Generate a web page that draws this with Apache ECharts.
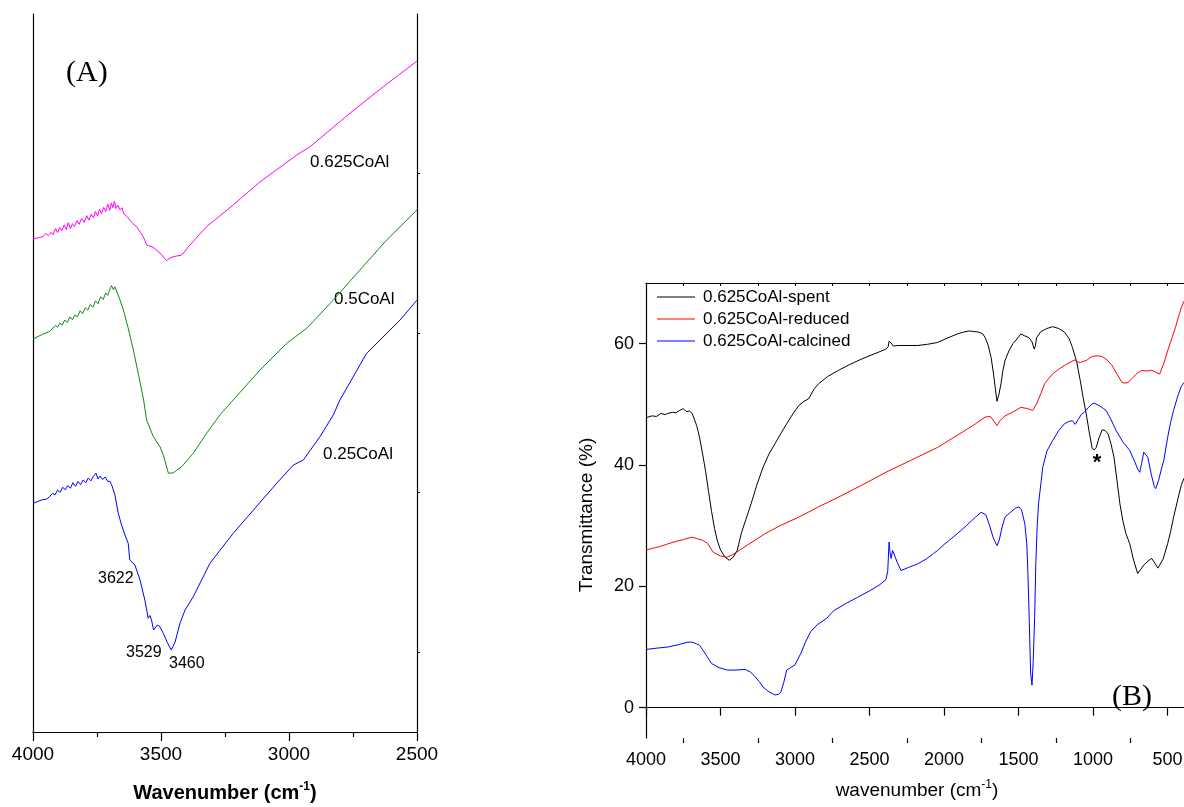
<!DOCTYPE html>
<html>
<head>
<meta charset="utf-8">
<title>FTIR spectra of CoAl samples</title>
<script src="https://cdn.jsdelivr.net/npm/echarts/dist/echarts.min.js"></script>
<style>
  html, body { margin: 0; padding: 0; background: #fff; }
  #chart { width: 1184px; height: 807px; }
</style>
</head>
<body>
<div id="chart"></div>
<script>
// ---- Panel (A): OH stretching region, offset spectra (arbitrary units) ----
const specA_0625 = [
  [4000,30.90],[3975,31.00],[3960,31.05],[3950,31.25],[3940,31.12],[3930,31.32],[3922,31.18],[3912,31.55],
  [3904,31.30],[3896,31.62],[3888,31.42],[3878,31.78],[3870,31.48],[3862,31.92],[3854,31.55],[3846,31.86],
  [3838,31.68],[3828,32.05],[3820,31.82],[3810,32.18],[3800,31.94],[3790,32.36],[3782,32.08],[3772,32.46],
  [3764,32.22],[3756,32.62],[3748,32.34],[3740,32.76],[3732,32.48],[3724,32.88],[3716,32.62],[3708,33.08],
  [3700,32.70],[3694,33.16],[3688,32.86],[3682,33.26],[3676,32.80],[3668,33.02],[3660,32.72],[3652,32.86],
  [3646,32.50],[3640,32.56],[3630,32.25],[3612,31.90],[3595,31.67],[3580,31.30],[3569,31.04],[3556,30.52],
  [3530,30.38],[3504,30.02],[3478,29.54],[3465,29.70],[3452,29.79],[3419,29.89],[3387,30.52],[3322,31.67],
  [3218,33.03],[3113,34.49],[3022,35.54],[2970,36.16],[2918,36.68],[2840,37.73],[2762,38.78],[2632,40.44],
  [2500,42.05]
];
const specA_05 = [
  [4000,24.63],[3960,24.95],[3935,25.10],[3922,25.32],[3912,25.48],[3904,25.38],[3895,25.62],[3886,25.50],
  [3876,25.82],[3866,25.66],[3856,26.02],[3846,25.84],[3836,26.14],[3826,26.02],[3816,26.40],[3806,26.22],
  [3796,26.60],[3786,26.44],[3776,26.80],[3766,26.62],[3756,27.02],[3746,26.84],[3736,27.28],[3726,27.10],
  [3716,27.52],[3708,27.36],[3700,27.74],[3693,27.98],[3686,27.72],[3680,27.90],[3660,27.07],[3647,26.45],
  [3628,25.30],[3608,23.94],[3589,22.48],[3569,20.91],[3556,19.55],[3530,18.51],[3504,17.88],[3491,17.36],
  [3471,16.21],[3452,16.25],[3419,16.63],[3374,17.47],[3322,18.72],[3270,19.87],[3218,20.81],[3113,22.69],
  [3009,24.36],[2931,25.30],[2827,27.07],[2723,28.95],[2619,30.83],[2500,32.72]
];
const specA_025 = [
  [4000,14.33],[3965,14.55],[3946,14.60],[3934,14.78],[3924,14.96],[3914,14.86],[3904,15.16],[3894,15.02],
  [3884,15.34],[3874,15.18],[3864,15.44],[3854,15.28],[3844,15.62],[3834,15.40],[3824,15.70],[3814,15.50],
  [3804,15.80],[3794,15.62],[3784,15.92],[3774,15.74],[3764,16.02],[3754,16.22],[3746,15.86],[3738,16.04],
  [3728,15.82],[3718,15.98],[3708,15.70],[3700,15.72],[3693,15.50],[3687,15.20],[3680,14.85],[3667,13.71],
  [3660,13.60],[3654,12.97],[3641,12.35],[3628,11.83],[3622,10.78],[3602,10.47],[3582,9.53],[3563,8.27],
  [3550,7.13],[3543,7.30],[3537,7.02],[3529,6.39],[3515,6.70],[3506,6.64],[3491,6.19],[3475,5.60],
  [3460,5.14],[3445,5.64],[3426,6.81],[3406,7.65],[3374,8.48],[3309,10.57],[3218,12.45],[3139,13.91],
  [3048,15.59],[2983,16.73],[2944,17.05],[2879,18.51],[2827,19.87],[2801,20.81],[2697,23.73],[2566,25.82],
  [2500,27.07]
];
const namesA = ['0.625CoAl', '0.5CoAl', '0.25CoAl'];
const peakLabelsA = ['3622', '3529', '3460'];

// ---- Panel (B): full-range transmittance spectra of 0.625CoAl ----
const specB_spent = [
  [4000,47.8],[3960,48.1],[3930,48.0],[3900,48.5],[3870,48.3],[3854,48.5],[3820,48.7],[3800,48.6],
  [3774,49.0],[3750,49.3],[3730,48.8],[3708,48.9],[3690,48.5],[3681,47.9],[3660,46.5],[3641,44.6],
  [3620,41.8],[3601,39.1],[3580,35.6],[3561,32.5],[3540,29.5],[3521,27.5],[3500,26.0],[3470,24.8],
  [3441,24.3],[3415,24.8],[3388,25.9],[3361,28.7],[3330,31.0],[3295,33.6],[3255,36.8],[3215,39.6],
  [3175,41.8],[3135,43.5],[3095,45.2],[3056,46.8],[3015,48.4],[2975,49.8],[2940,50.5],[2909,50.9],
  [2870,52.6],[2842,53.4],[2780,54.6],[2709,55.6],[2630,56.6],[2550,57.5],[2470,58.3],[2390,59.1],
  [2375,59.5],[2369,60.4],[2355,60.1],[2340,59.6],[2310,59.7],[2250,59.7],[2177,59.7],[2110,59.9],
  [2044,60.2],[1980,60.9],[1911,61.6],[1870,61.9],[1831,62.1],[1800,62.0],[1765,61.9],[1740,61.6],
  [1724,61.0],[1705,59.8],[1684,57.7],[1668,55.0],[1657,52.8],[1645,50.5],[1632,51.6],[1618,53.4],
  [1605,55.6],[1591,57.2],[1565,58.8],[1538,60.0],[1510,60.8],[1485,61.6],[1460,61.3],[1431,61.0],
  [1410,60.3],[1395,59.1],[1388,59.6],[1379,61.0],[1350,62.0],[1310,62.5],[1272,62.8],[1230,62.5],
  [1192,61.9],[1160,60.8],[1139,59.4],[1110,57.0],[1086,53.9],[1066,51.0],[1046,48.4],[1025,45.3],
  [1006,42.7],[992,42.5],[979,42.9],[960,44.5],[939,45.8],[920,45.7],[899,45.1],[880,43.5],
  [860,41.3],[840,37.5],[820,33.6],[800,30.8],[780,28.7],[754,27.0],[730,24.5],[701,22.1],
  [680,22.8],[660,23.5],[647,23.7],[625,24.3],[607,24.6],[585,23.8],[565,23.0],[553,22.9],
  [530,24.5],[500,27.0],[480,29.0],[460,31.4],[430,34.5],[407,36.8],[390,37.8]
];
const specB_reduced = [
  [4000,26.0],[3950,26.3],[3900,26.6],[3854,27.0],[3800,27.4],[3750,27.7],[3694,28.1],[3660,27.9],
  [3620,27.6],[3588,27.1],[3548,25.6],[3500,25.0],[3455,24.8],[3420,25.2],[3375,25.9],[3320,26.8],
  [3268,27.6],[3200,28.7],[3100,30.0],[2975,31.4],[2850,33.0],[2709,34.7],[2550,36.7],[2390,38.8],
  [2220,40.8],[2044,42.9],[1911,44.9],[1800,46.6],[1724,47.9],[1690,48.0],[1665,47.2],[1645,46.5],
  [1625,47.3],[1591,48.1],[1540,48.7],[1485,49.5],[1440,49.3],[1405,49.0],[1395,49.2],[1379,50.1],
  [1350,51.8],[1325,53.4],[1300,54.2],[1272,55.0],[1230,55.8],[1192,56.4],[1155,56.9],[1126,57.3],
  [1105,57.0],[1086,56.9],[1066,57.1],[1046,57.2],[1025,57.6],[1006,57.9],[970,58.0],[939,57.9],
  [905,57.3],[873,56.4],[840,55.0],[806,53.6],[786,53.5],[766,53.6],[745,54.1],[726,54.6],
  [700,55.2],[673,55.6],[640,55.5],[607,55.6],[580,55.3],[553,55.0],[525,56.8],[500,58.8],
  [470,61.0],[447,62.7],[420,65.0],[407,66.0],[390,67.0]
];
const specB_calcined = [
  [4000,9.6],[3930,9.8],[3854,10.0],[3780,10.4],[3721,10.8],[3690,10.8],[3660,10.5],[3641,10.3],
  [3600,8.8],[3561,7.3],[3510,6.6],[3455,6.2],[3400,6.2],[3335,6.3],[3300,5.9],[3268,5.1],
  [3240,4.3],[3215,3.4],[3180,2.7],[3150,2.3],[3135,2.1],[3110,2.2],[3095,2.6],[3075,4.2],
  [3056,6.2],[3030,6.6],[3002,7.0],[2960,9.0],[2930,10.8],[2896,12.5],[2850,13.7],[2789,14.7],
  [2740,16.0],[2656,17.2],[2580,18.2],[2496,19.3],[2430,20.3],[2390,21.1],[2378,22.5],[2369,27.3],
  [2362,25.5],[2355,24.6],[2345,25.9],[2335,25.9],[2315,24.0],[2289,22.6],[2240,23.1],[2177,23.7],
  [2120,24.5],[2071,25.4],[2044,25.9],[2000,26.9],[1964,27.6],[1911,28.7],[1850,30.0],[1790,31.4],
  [1751,32.2],[1720,31.8],[1698,30.3],[1670,28.0],[1645,26.7],[1630,27.6],[1610,29.8],[1591,31.4],
  [1550,32.3],[1520,32.9],[1498,33.1],[1480,32.6],[1458,30.3],[1445,27.0],[1437,22.0],[1428,14.0],
  [1419,5.7],[1410,3.7],[1402,7.5],[1392,15.0],[1384,24.0],[1375,30.0],[1366,33.6],[1350,37.0],
  [1338,39.6],[1310,42.3],[1272,44.0],[1230,45.7],[1192,46.8],[1160,47.2],[1139,47.3],[1120,46.7],
  [1112,46.5],[1100,47.5],[1080,48.3],[1059,48.7],[1030,49.5],[1010,50.0],[993,50.2],[960,49.8],
  [930,49.3],[913,49.0],[880,47.5],[846,45.7],[800,43.8],[754,42.4],[720,40.5],[700,39.3],
  [687,38.8],[675,40.2],[660,42.1],[648,41.8],[633,41.3],[610,38.5],[590,36.5],[580,36.1],
  [560,37.5],[540,39.5],[526,40.7],[500,44.5],[480,47.0],[460,49.0],[430,51.5],[407,53.0],[390,53.6]
];
const namesB = ['0.625CoAl-spent', '0.625CoAl-reduced', '0.625CoAl-calcined'];
const xTicksB = [500, 1000, 1500, 2000, 2500, 3000, 3500, 4000];
const xMinorTicksB = [750, 1250, 1750, 2250, 2750, 3250, 3750];
const yTicksB = [0, 20, 40, 60];

const SANS = '"Liberation Sans", Arial, sans-serif';
const SERIF = '"Liberation Serif", "Times New Roman", serif';
const AX = { lineStyle: { color: '#000', width: 1.2 } };
const plain = v => String(v);

const chart = echarts.init(document.getElementById('chart'), null, { renderer: 'canvas' });

function lineSeries(name, data, color, xi, yi) {
  return {
    type: 'line', name, data, xAxisIndex: xi, yAxisIndex: yi,
    showSymbol: false, symbol: 'none', smooth: false, silent: true,
    lineStyle: { color, width: 1 }, itemStyle: { color },
    emphasis: { disabled: true }
  };
}

chart.setOption({
  animation: false,
  backgroundColor: '#fff',
  grid: [
    { left: 33, top: 14, width: 384, height: 718, containLabel: false, outerBoundsMode: 'none' },
    { left: 646, top: 283, width: 538, height: 455, containLabel: false, outerBoundsMode: 'none' }
  ],
  legend: {
    data: namesB,
    orient: 'vertical',
    left: 652, top: 282,
    icon: 'rect', itemWidth: 38, itemHeight: 1, itemGap: 2,
    textStyle: { fontFamily: SANS, fontSize: 17, color: '#000', lineHeight: 20, padding: [0, 0, 0, 3] },
    selectedMode: false
  },
  xAxis: [
    { // A bottom
      gridIndex: 0, type: 'value', min: 2500, max: 4000, interval: 500, inverse: true, position: 'bottom',
      axisLine: AX, axisTick: { show: true, inside: false, length: 9, lineStyle: { color: '#000', width: 1.2 } },
      minorTick: { show: true, splitNumber: 2, length: 5, lineStyle: { color: '#000', width: 1.2 } },
      axisLabel: { fontFamily: SANS, fontSize: 19, color: '#000', margin: 13, formatter: plain },
      splitLine: { show: false }, minorSplitLine: { show: false }
    },
    { // A top
      gridIndex: 0, type: 'value', min: 2500, max: 4000, inverse: true, position: 'top',
      axisLine: AX, axisTick: { show: false }, axisLabel: { show: false }, splitLine: { show: false }
    },
    { // B bottom, labelled ticks
      gridIndex: 1, type: 'value', min: 390, max: 4000, inverse: true, position: 'bottom',
      axisLine: AX,
      axisTick: { show: true, inside: false, length: 8, customValues: xTicksB, lineStyle: { color: '#000', width: 1.2 } },
      axisLabel: { fontFamily: SANS, fontSize: 18, color: '#000', margin: 13, customValues: xTicksB, formatter: plain },
      splitLine: { show: false }
    },
    { // B bottom, minor ticks
      gridIndex: 1, type: 'value', min: 390, max: 4000, inverse: true, position: 'bottom',
      axisLine: { show: false },
      axisTick: { show: true, inside: false, length: 5, customValues: xMinorTicksB, lineStyle: { color: '#000', width: 1.2 } },
      axisLabel: { show: false }, splitLine: { show: false }
    },
    { // B top
      gridIndex: 1, type: 'value', min: 390, max: 4000, inverse: true, position: 'top',
      axisLine: AX,
      axisTick: { show: true, inside: true, length: 3, customValues: xTicksB.concat(xMinorTicksB), lineStyle: { color: '#000', width: 1 } },
      axisLabel: { show: false }, splitLine: { show: false }
    }
  ],
  yAxis: [
    { // A left
      gridIndex: 0, type: 'value', min: 0, max: 45, position: 'left',
      axisLine: { show: true, lineStyle: { color: '#000', width: 1.2 } },
      axisTick: { show: false }, axisLabel: { show: false }, splitLine: { show: false }
    },
    { // A right
      gridIndex: 0, type: 'value', min: 0, max: 45, position: 'right',
      axisLine: { show: true, lineStyle: { color: '#000', width: 1.2 } },
      axisTick: { show: true, inside: false, length: 3, customValues: [5, 15, 25, 35], lineStyle: { color: '#000', width: 1 } },
      axisLabel: { show: false }, splitLine: { show: false }
    },
    { // B left
      gridIndex: 1, type: 'value', min: -5, max: 70, position: 'left',
      axisLine: { show: true, lineStyle: { color: '#000', width: 1.2 } },
      axisTick: { show: true, inside: false, length: 7, customValues: yTicksB, lineStyle: { color: '#000', width: 1.2 } },
      axisLabel: { fontFamily: SANS, fontSize: 18, color: '#000', margin: 12, customValues: yTicksB, formatter: plain },
      splitLine: { show: false }
    }
  ],
  series: [
    lineSeries(namesA[0], specA_0625, '#ff00ff', 0, 0),
    lineSeries(namesA[1], specA_05, '#138a13', 0, 0),
    lineSeries(namesA[2], specA_025, '#0000ff', 0, 0),
    lineSeries(namesB[0], specB_spent, '#000000', 2, 2),
    lineSeries(namesB[1], specB_reduced, '#ff0000', 2, 2),
    lineSeries(namesB[2], specB_calcined, '#0000ff', 2, 2)
  ],
  graphic: [
    { type: 'text', x: 66, y: 73, style: { text: '(A)', font: '30px ' + SERIF, fill: '#000', textVerticalAlign: 'middle' } },
    { type: 'text', x: 1112, y: 697, style: { text: '(B)', font: '30px ' + SERIF, fill: '#000', textVerticalAlign: 'middle' } },
    { type: 'text', x: 310, y: 162, style: { text: namesA[0], font: '17px ' + SANS, fill: '#000', textVerticalAlign: 'middle' } },
    { type: 'text', x: 334, y: 299, style: { text: namesA[1], font: '17px ' + SANS, fill: '#000', textVerticalAlign: 'middle' } },
    { type: 'text', x: 323, y: 454, style: { text: namesA[2], font: '17px ' + SANS, fill: '#000', textVerticalAlign: 'middle' } },
    { type: 'text', x: 98, y: 579, style: { text: peakLabelsA[0], font: '16px ' + SANS, fill: '#000', textVerticalAlign: 'middle' } },
    { type: 'text', x: 126, y: 653, style: { text: peakLabelsA[1], font: '16px ' + SANS, fill: '#000', textVerticalAlign: 'middle' } },
    { type: 'text', x: 169, y: 664, style: { text: peakLabelsA[2], font: '16px ' + SANS, fill: '#000', textVerticalAlign: 'middle' } },
    { type: 'text', x: 1097, y: 452, style: { text: '*', font: 'bold 22px ' + SANS, fill: '#000', textAlign: 'center', textVerticalAlign: 'top' } },
    { type: 'text', x: 225, y: 793, style: {
        text: '{a|Wavenumber (cm}{s|-1}{a|)}', textAlign: 'center', textVerticalAlign: 'middle',
        rich: { a: { font: 'bold 20px ' + SANS, fill: '#000', lineHeight: 24 }, s: { font: 'bold 12px ' + SANS, fill: '#000', verticalAlign: 'top', lineHeight: 24, padding: [0, 0, 10, 0] } }
    } },
    { type: 'text', x: 917, y: 791, style: {
        text: '{a|wavenumber (cm}{s|-1}{a|)}', textAlign: 'center', textVerticalAlign: 'middle',
        rich: { a: { font: '19px ' + SANS, fill: '#000', lineHeight: 24 }, s: { font: '12px ' + SANS, fill: '#000', verticalAlign: 'top', lineHeight: 24, padding: [0, 0, 10, 0] } }
    } },
    { type: 'text', x: 587, y: 515, rotation: Math.PI / 2, style: { text: 'Transmittance (%)', font: '19px ' + SANS, fill: '#000', textAlign: 'center', textVerticalAlign: 'middle' } }
  ]
});
</script>
</body>
</html>
